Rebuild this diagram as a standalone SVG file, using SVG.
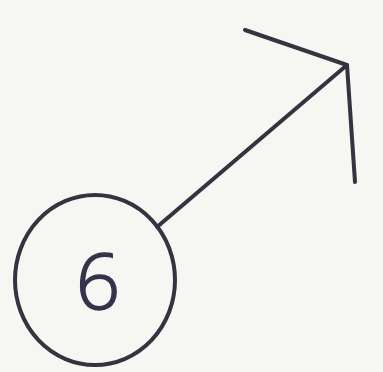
<svg xmlns="http://www.w3.org/2000/svg" width="383" height="372" viewBox="0 0 383 372">
<style>
.s{fill:none;stroke:#33343f;stroke-width:4;stroke-linecap:round;stroke-linejoin:round}
.t{font-family:"DejaVu Sans ExtraLight","Open Sans","Liberation Sans",sans-serif;font-weight:200;font-size:78px;fill:#33344a;stroke:#33344a;stroke-width:1.5;text-anchor:middle}
</style>
<rect width="383" height="372" fill="#f6f6f3"/>
<g id="node6">
<ellipse class="s" cx="95" cy="280" rx="80" ry="85"/>
<text class="t" x="98" y="309">6</text>
</g>
<g id="connectors">
<path class="s" d="M157 227 L347 65"/>
<path class="s" d="M245 30 L347 65 L355 182"/>
</g>
</svg>
